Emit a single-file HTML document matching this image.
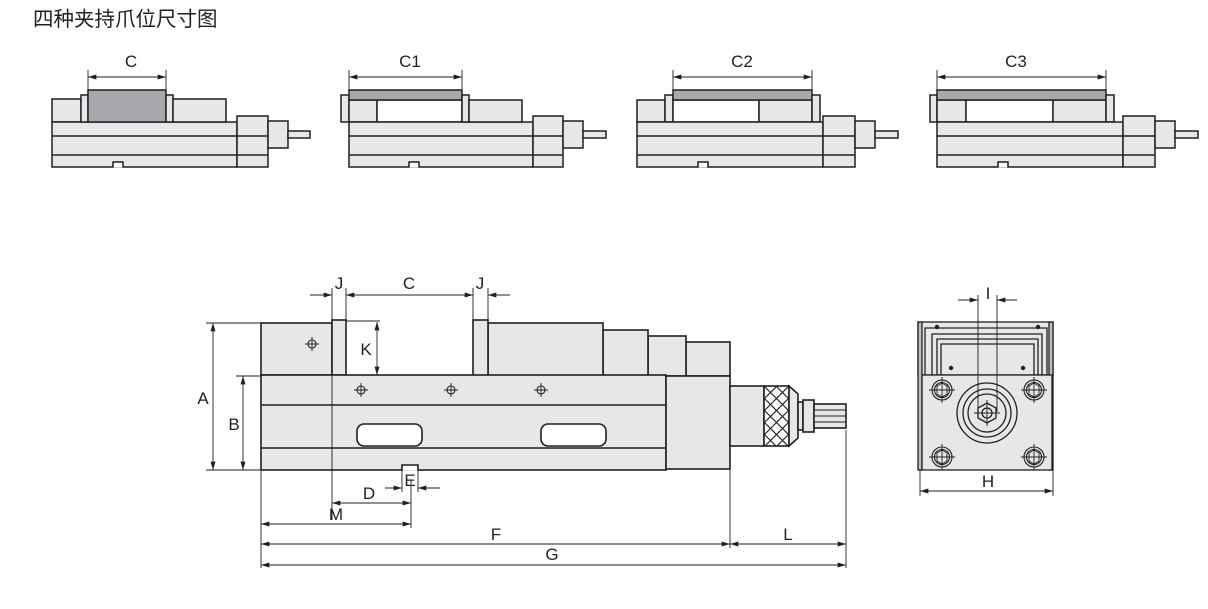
<!DOCTYPE html>
<html><head><meta charset="utf-8"><style>
html,body{margin:0;padding:0;background:#fff}
svg{display:block}
text{font-family:"Liberation Sans","Noto Sans CJK SC",sans-serif;fill:#231f20}
</style></head><body>
<svg width="1208" height="609" viewBox="0 0 1208 609" xmlns="http://www.w3.org/2000/svg">
<defs>
<marker id="ar" viewBox="0 0 10 6" refX="10" refY="3" markerWidth="9" markerHeight="5" orient="auto-start-reverse" markerUnits="userSpaceOnUse"><path d="M0,0 L10,3 L0,6 Z" fill="#231f20"/></marker>
<g id="ch"><circle r="4" fill="none" stroke="#231f20" stroke-width="1.1"/><path d="M-7,0H7M0,-7V7" stroke="#231f20" stroke-width="0.9"/></g>
<g id="bolt"><circle r="10" fill="none" stroke="#231f20" stroke-width="1.1"/><circle r="7.5" fill="none" stroke="#231f20" stroke-width="1.1"/><path d="M-13,0H13M0,-13V13" stroke="#231f20" stroke-width="0.9"/><polygon points="-5,-4 0,-7 5,-4 5,4 0,7 -5,4" fill="none" stroke="#231f20" stroke-width="0.9"/></g>
</defs>
<text x="33" y="26" font-size="20.5">四种夹持爪位尺寸图</text>

<g fill="#e6e7e8" stroke="#231f20" stroke-width="1.5">
<!-- Thumb 1 -->
<rect x="52" y="99" width="29" height="23"/>
<rect x="52" y="122" width="185" height="45"/>
<line x1="52" y1="136" x2="237" y2="136"/><line x1="52" y1="155" x2="237" y2="155"/>
<rect x="237" y="116" width="31" height="51"/>
<line x1="237" y1="136" x2="268" y2="136"/><line x1="237" y1="155" x2="268" y2="155"/>
<rect x="268" y="121" width="20" height="27"/>
<rect x="288" y="131" width="22" height="7"/>
<path d="M113,167.5V162H123V167.5" fill="#fff"/>
<rect x="81" y="95" width="7" height="27"/>
<rect x="88" y="90" width="78" height="32" fill="#a7a9ac"/>
<rect x="166" y="95" width="7" height="27"/>
<rect x="173" y="99" width="53" height="23"/>

<!-- Thumb 2 -->
<rect x="341" y="95" width="8" height="27"/>
<rect x="349" y="100" width="28" height="22"/>
<rect x="377" y="100" width="85" height="22" fill="#fff"/>
<rect x="349" y="90" width="113" height="10" fill="#a7a9ac"/>
<rect x="349" y="122" width="184" height="45"/>
<line x1="349" y1="136" x2="533" y2="136"/><line x1="349" y1="155" x2="533" y2="155"/>
<rect x="533" y="116" width="30" height="51"/>
<line x1="533" y1="136" x2="563" y2="136"/><line x1="533" y1="155" x2="563" y2="155"/>
<rect x="563" y="121" width="20" height="27"/>
<rect x="583" y="131" width="23" height="7"/>
<path d="M409,167.5V162H419V167.5" fill="#fff"/>
<rect x="462" y="95" width="7" height="27"/>
<rect x="469" y="100" width="53" height="22"/>

<!-- Thumb 3 -->
<rect x="637" y="100" width="28" height="22"/>
<rect x="665" y="95" width="8" height="27"/>
<rect x="673" y="100" width="86" height="22" fill="#fff"/>
<rect x="759" y="100" width="53" height="22"/>
<rect x="673" y="90" width="139" height="10" fill="#a7a9ac"/>
<rect x="812" y="95" width="8" height="27"/>
<rect x="637" y="122" width="186" height="45"/>
<line x1="637" y1="136" x2="823" y2="136"/><line x1="637" y1="155" x2="823" y2="155"/>
<rect x="823" y="116" width="32" height="51"/>
<line x1="823" y1="136" x2="855" y2="136"/><line x1="823" y1="155" x2="855" y2="155"/>
<rect x="855" y="121" width="20" height="27"/>
<rect x="875" y="131" width="23" height="7"/>
<path d="M698,167.5V162H708V167.5" fill="#fff"/>

<!-- Thumb 4 -->
<rect x="930" y="95" width="7" height="27"/>
<rect x="937" y="100" width="29" height="22"/>
<rect x="966" y="100" width="87" height="22" fill="#fff"/>
<rect x="1053" y="100" width="53" height="22"/>
<rect x="937" y="90" width="169" height="10" fill="#a7a9ac"/>
<rect x="1106" y="95" width="8" height="27"/>
<rect x="937" y="122" width="186" height="45"/>
<line x1="937" y1="136" x2="1123" y2="136"/><line x1="937" y1="155" x2="1123" y2="155"/>
<rect x="1123" y="116" width="32" height="51"/>
<line x1="1123" y1="136" x2="1155" y2="136"/><line x1="1123" y1="155" x2="1155" y2="155"/>
<rect x="1155" y="121" width="20" height="27"/>
<rect x="1175" y="131" width="23" height="7"/>
<path d="M998,167.5V162H1008V167.5" fill="#fff"/>
</g>

<!-- thumb dims -->
<g stroke="#231f20" stroke-width="0.9" fill="none">
<path d="M88,70V90M166,70V90M349,70V90M462,70V90M673,70V90M812,70V90M937,70V90M1106,70V90"/>
<line x1="88" y1="77" x2="166" y2="77" marker-start="url(#ar)" marker-end="url(#ar)"/>
<line x1="349" y1="77" x2="462" y2="77" marker-start="url(#ar)" marker-end="url(#ar)"/>
<line x1="673" y1="77" x2="812" y2="77" marker-start="url(#ar)" marker-end="url(#ar)"/>
<line x1="937" y1="77" x2="1106" y2="77" marker-start="url(#ar)" marker-end="url(#ar)"/>
</g>
<g font-size="17" text-anchor="middle">
<text x="131" y="67">C</text><text x="410" y="67">C1</text><text x="742" y="67">C2</text><text x="1016" y="67">C3</text>
</g>

<!-- Main side view -->
<g fill="#e6e7e8" stroke="#231f20" stroke-width="1.6">
<rect x="261" y="323" width="71" height="52"/>
<rect x="686" y="342" width="44" height="34"/>
<rect x="648" y="336" width="38" height="40"/>
<rect x="603" y="330" width="45" height="46"/>
<rect x="488" y="323" width="115" height="53"/>
<rect x="473" y="320" width="15" height="56"/>
<rect x="332" y="320" width="14" height="55"/>
<rect x="261" y="375" width="405" height="95"/>
<rect x="666" y="376" width="64" height="93"/>
<line x1="261" y1="405" x2="666" y2="405"/>
<line x1="261" y1="448" x2="666" y2="448"/>
<rect x="357" y="424" width="65" height="22" rx="7" fill="#fff"/>
<rect x="541" y="424" width="65" height="22" rx="7" fill="#fff"/>
<path d="M402,470.8V465H418V470.8" fill="#fff"/>
<rect x="730" y="386" width="34" height="60"/>
<rect x="764" y="386" width="25" height="60" fill="#fff"/>
<path d="M789,386L798,394V438L789,446Z"/>
<rect x="798" y="402" width="5" height="28"/>
<rect x="803" y="400" width="11" height="32"/>
<rect x="814" y="404" width="32" height="24"/>
<path d="M814,410H846M814,416H846M814,422H846" stroke-width="0.9"/>
</g>
<!-- knurl -->
<g stroke="#231f20" stroke-width="1.2" fill="none">
<path d="M764,386L789,411M764,398L789,423M764,410L789,435M764,422L788,446M764,434L776,446M776,386L789,399
M789,386L764,411M789,398L764,423M789,410L764,435M789,422L765,446M789,434L777,446M777,386L764,399"/>
</g>
<use href="#ch" x="312" y="344"/>
<use href="#ch" x="361" y="390"/>
<use href="#ch" x="451" y="390"/>
<use href="#ch" x="541" y="390"/>

<!-- main dims -->
<g stroke="#231f20" stroke-width="0.9" fill="none">
<path d="M206,323H261M236,376H261M206,470H261"/>
<line x1="213" y1="323" x2="213" y2="470" marker-start="url(#ar)" marker-end="url(#ar)"/>
<line x1="243" y1="376" x2="243" y2="470" marker-start="url(#ar)" marker-end="url(#ar)"/>
<path d="M332,288V520M346,288V320M473,288V320M488,288V320"/>
<line x1="310" y1="295" x2="332" y2="295" marker-end="url(#ar)"/>
<line x1="346" y1="295" x2="473" y2="295" marker-start="url(#ar)" marker-end="url(#ar)"/>
<line x1="510" y1="295" x2="488" y2="295" marker-end="url(#ar)"/>
<path d="M346,321H380"/>
<line x1="377" y1="322" x2="377" y2="375" marker-start="url(#ar)" marker-end="url(#ar)"/>
<path d="M402,470V492M418,470V492"/>
<line x1="385" y1="488" x2="402" y2="488" marker-end="url(#ar)"/>
<line x1="440" y1="488" x2="418" y2="488" marker-end="url(#ar)"/>
<path d="M411,480V528"/>
<line x1="332" y1="503" x2="411" y2="503" marker-start="url(#ar)" marker-end="url(#ar)"/>
<path d="M261,470V568M730,470V548M846,430V568"/>
<line x1="261" y1="524" x2="411" y2="524" marker-start="url(#ar)" marker-end="url(#ar)"/>
<line x1="261" y1="544" x2="730" y2="544" marker-start="url(#ar)" marker-end="url(#ar)"/>
<line x1="730" y1="544" x2="846" y2="544" marker-start="url(#ar)" marker-end="url(#ar)"/>
<line x1="261" y1="565" x2="846" y2="565" marker-start="url(#ar)" marker-end="url(#ar)"/>
</g>
<g font-size="17" text-anchor="middle">
<text x="203" y="404">A</text><text x="234" y="430">B</text>
<text x="339" y="289">J</text><text x="409" y="289">C</text><text x="480" y="289">J</text>
<text x="366" y="355">K</text>
<text x="410" y="486">E</text><text x="369" y="499">D</text>
<text x="336" y="520">M</text><text x="496" y="540">F</text><text x="788" y="540">L</text>
<text x="552" y="560">G</text>
</g>

<!-- End view -->
<g fill="#e6e7e8" stroke="#231f20" stroke-width="1.3">
<rect x="918" y="322" width="135" height="53"/>
<rect x="918" y="322" width="4" height="148" fill="#bcbec0"/>
<rect x="1049" y="322" width="4" height="148" fill="#bcbec0"/>
<path d="M925,375V328H1047V375M932,375V334H1042V375M937,375V339H1038V375M941,375V344H1034V375" fill="none"/>
<rect x="922" y="375" width="130" height="95"/>
<circle cx="987" cy="413" r="30" fill="none"/>
<circle cx="987" cy="413" r="24" fill="none"/>
<circle cx="987" cy="413" r="19" fill="none"/>
<polygon points="978,408 987,403 996,408 996,418 987,423 978,418" fill="none"/>
<circle cx="987" cy="413" r="5" fill="none"/>
</g>
<g fill="#231f20"><circle cx="937" cy="327" r="2.2"/><circle cx="1038" cy="327" r="2.2"/><circle cx="951" cy="368" r="2.2"/><circle cx="1023" cy="368" r="2.2"/></g>
<use href="#bolt" x="942" y="390"/><use href="#bolt" x="1034" y="390"/>
<use href="#bolt" x="942" y="457"/><use href="#bolt" x="1034" y="457"/>
<g stroke="#231f20" stroke-width="0.9" fill="none">
<path d="M978,295V412M997,295V412M987,400V426M974,413H1000"/>
<line x1="958" y1="300" x2="978" y2="300" marker-end="url(#ar)"/>
<line x1="1017" y1="300" x2="997" y2="300" marker-end="url(#ar)"/>
<path d="M920,470V496M1053,470V496"/>
<line x1="920" y1="491" x2="1053" y2="491" marker-start="url(#ar)" marker-end="url(#ar)"/>
</g>
<g font-size="17" text-anchor="middle"><text x="988" y="299">I</text><text x="988" y="487">H</text></g>
</svg>
</body></html>
